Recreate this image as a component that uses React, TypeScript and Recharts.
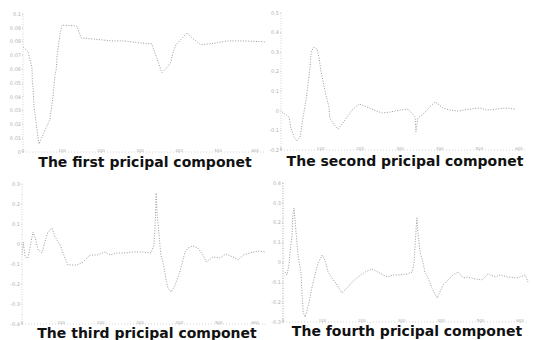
import React from "react";
import { LineChart, Line, XAxis, YAxis } from "recharts";

// Sample positions (x) and component loadings (y)
const pc1Samples = [0, 13, 23, 24, 26, 28, 31, 38, 41, 69, 77, 82, 85, 87, 90, 95, 100, 138, 149, 228, 259, 300, 330, 338, 356, 371, 379, 384, 392, 420, 428, 436, 456, 479, 497, 523, 564, 620];
const pc1Values = [0.0762, 0.0727, 0.0611, 0.0504, 0.0468, 0.0331, 0.0273, 0.0115, 0.0058, 0.0237, 0.0403, 0.0561, 0.0597, 0.0683, 0.0755, 0.0856, 0.092, 0.0913, 0.0827, 0.0805, 0.0805, 0.0791, 0.0784, 0.0719, 0.0575, 0.0618, 0.0654, 0.0719, 0.0777, 0.0863, 0.0841, 0.082, 0.0777, 0.0784, 0.0791, 0.0805, 0.0805, 0.0798];

const pc2Samples = [3, 20, 25, 33, 40, 48, 58, 63, 68, 73, 76, 83, 91, 96, 101, 108, 113, 121, 123, 134, 144, 161, 179, 197, 217, 234, 255, 275, 300, 320, 338, 340, 345, 355, 363, 375, 388, 396, 408, 426, 446, 476, 501, 519, 544, 564, 590];
const pc2Values = [-0.006, -0.031, -0.088, -0.134, -0.154, -0.134, -0.006, 0.055, 0.132, 0.224, 0.301, 0.326, 0.316, 0.27, 0.198, 0.132, 0.081, 0.02, -0.037, -0.072, -0.093, -0.047, 0.004, 0.035, 0.02, 0.004, -0.011, -0.006, 0.004, 0.009, -0.031, -0.108, -0.037, -0.021, -0.006, 0.02, 0.045, 0.035, 0.015, 0.004, -0.001, 0.009, 0.015, 0.004, 0.009, 0.015, 0.009];

const pc3Samples = [0, 3, 8, 15, 20, 25, 28, 33, 41, 51, 58, 66, 76, 84, 97, 109, 117, 140, 155, 173, 191, 211, 224, 241, 262, 282, 307, 328, 335, 338, 340, 341, 343, 351, 353, 358, 363, 366, 371, 379, 389, 401, 409, 414, 422, 434, 447, 460, 468, 485, 503, 518, 536, 549, 562, 579, 600, 620];
const pc3Values = [-0.055, 0.01, -0.065, -0.07, -0.02, 0.03, 0.06, 0.035, -0.03, -0.045, 0.01, 0.06, 0.08, 0.035, -0.005, -0.07, -0.105, -0.105, -0.09, -0.055, -0.055, -0.04, -0.055, -0.045, -0.045, -0.04, -0.04, -0.045, -0.005, 0.08, 0.18, 0.255, 0.16, -0.015, -0.055, -0.09, -0.14, -0.18, -0.22, -0.24, -0.205, -0.14, -0.08, -0.04, -0.02, -0.01, -0.02, -0.055, -0.09, -0.065, -0.07, -0.05, -0.065, -0.08, -0.055, -0.045, -0.035, -0.04];

const pc4Samples = [5, 10, 15, 18, 23, 25, 28, 33, 38, 46, 48, 51, 56, 61, 66, 73, 81, 89, 99, 106, 114, 124, 137, 149, 162, 175, 190, 208, 225, 240, 253, 266, 278, 296, 314, 327, 332, 334, 337, 339, 342, 347, 354, 359, 367, 377, 390, 397, 405, 418, 430, 443, 456, 468, 486, 504, 519, 537, 549, 567, 592, 613, 620];
const pc4Values = [-0.048, -0.063, -0.013, 0.053, 0.138, 0.239, 0.274, 0.153, 0.037, -0.063, -0.154, -0.25, -0.275, -0.24, -0.199, -0.129, -0.063, -0.003, 0.037, 0.012, -0.048, -0.078, -0.114, -0.154, -0.129, -0.099, -0.073, -0.048, -0.033, -0.048, -0.063, -0.073, -0.063, -0.063, -0.058, -0.048, 0.002, 0.073, 0.173, 0.224, 0.138, 0.053, 0.002, -0.048, -0.078, -0.129, -0.179, -0.149, -0.114, -0.088, -0.063, -0.048, -0.078, -0.073, -0.083, -0.088, -0.058, -0.073, -0.063, -0.073, -0.078, -0.063, -0.099];

const xTicks = [0, 100, 200, 300, 400, 500, 600];
const pc1Ticks = [0, 0.01, 0.02, 0.03, 0.04, 0.05, 0.06, 0.07, 0.08, 0.09, 0.1];
const pc2Ticks = [-0.2, -0.1, 0, 0.1, 0.2, 0.3, 0.4, 0.5];
const pc3Ticks = [-0.4, -0.3, -0.2, -0.1, 0, 0.1, 0.2, 0.3];
const pc4Ticks = [-0.3, -0.2, -0.1, 0, 0.1, 0.2, 0.3, 0.4];

const captions = [
  "The first pricipal componet",
  "The second pricipal componet",
  "The third pricipal componet",
  "The fourth pricipal componet",
];

const zip = (xs: number[], ys: number[]) => xs.map((x, i) => ({ x, y: ys[i] }));

const yTickStyle = { fontSize: 5, fill: "#b0b0b0", fontFamily: "DejaVu Sans" };
const axisLine = { stroke: "#d4d4d4", strokeDasharray: "1 2" };

function XTick(props: any) {
  const { x, y, payload } = props;
  return (
    <text
      x={x}
      y={y - 1.5}
      textAnchor="middle"
      fontSize={4}
      fill="#b0b0b0"
      fontFamily="DejaVu Sans"
    >
      {payload.value}
    </text>
  );
}

type PanelProps = {
  data: { x: number; y: number }[];
  yTicks: number[];
  left: number;
  top: number;
  yWidth: number;
  mTop: number;
  mRight: number;
  xHeight: number;
  leftAxisStroke?: string;
};

function Panel(p: PanelProps) {
  const yMin = p.yTicks[0];
  const yMax = p.yTicks[p.yTicks.length - 1];
  return (
    <div style={{ position: "absolute", left: p.left, top: p.top }}>
      <LineChart
        width={267}
        height={170}
        data={p.data}
        margin={{ top: p.mTop, right: p.mRight, left: 0, bottom: 0 }}
      >
        <XAxis
          type="number"
          dataKey="x"
          domain={[0, 620]}
          ticks={xTicks}
          height={p.xHeight}
          tick={<XTick />}
          tickSize={1}
          tickMargin={0}
          axisLine={axisLine}
          tickLine={{ stroke: "#ccc" }}
        />
        <YAxis
          type="number"
          dataKey="y"
          domain={[yMin, yMax]}
          ticks={p.yTicks}
          width={p.yWidth}
          tick={yTickStyle}
          tickSize={1}
          tickMargin={1}
          tickFormatter={(v: number) => (Math.abs(v) < 1e-9 ? "0" : String(Number(v.toFixed(2))))}
          axisLine={{ stroke: p.leftAxisStroke || "#d4d4d4", strokeDasharray: "1 1.5" }}
          tickLine={{ stroke: "#ccc" }}
          allowDataOverflow
        />
        <Line
          type="linear"
          dataKey="y"
          stroke="#9a9a9a"
          strokeWidth={1}
          strokeDasharray="1 1.6"
          dot={false}
          isAnimationActive={false}
        />
      </LineChart>
    </div>
  );
}

export default function App() {
  return (
    <div
      style={{
        position: "absolute",
        left: 0,
        top: 0,
        width: 534,
        height: 340,
        background: "#fff",
        overflow: "hidden",
      }}
    >
      <Panel data={zip(pc1Samples, pc1Values)} yTicks={pc1Ticks} left={0} top={0} yWidth={23} mTop={14} mRight={2} xHeight={18} />
      <Panel data={zip(pc2Samples, pc2Values)} yTicks={pc2Ticks} left={267} top={0} yWidth={14} mTop={13} mRight={7} xHeight={20} />
      <Panel data={zip(pc3Samples, pc3Values)} yTicks={pc3Ticks} left={0} top={170} yWidth={22} mTop={14} mRight={1} xHeight={16} />
      <Panel data={zip(pc4Samples, pc4Values)} yTicks={pc4Ticks} left={267} top={170} yWidth={16} mTop={13} mRight={6} xHeight={18} leftAxisStroke="#a8a8a8" />
      <svg width={534} height={340} style={{ position: "absolute", left: 0, top: 0, pointerEvents: "none" }}>
        <g fontFamily="DejaVu Sans" fontWeight="bold" fontSize={14} fill="#111" textAnchor="middle">
          <text x={145} y={167}>{captions[0]}</text>
          <text x={405} y={166}>{captions[1]}</text>
          <text x={147} y={338}>{captions[2]}</text>
          <text x={407} y={336}>{captions[3]}</text>
        </g>
      </svg>
    </div>
  );
}
